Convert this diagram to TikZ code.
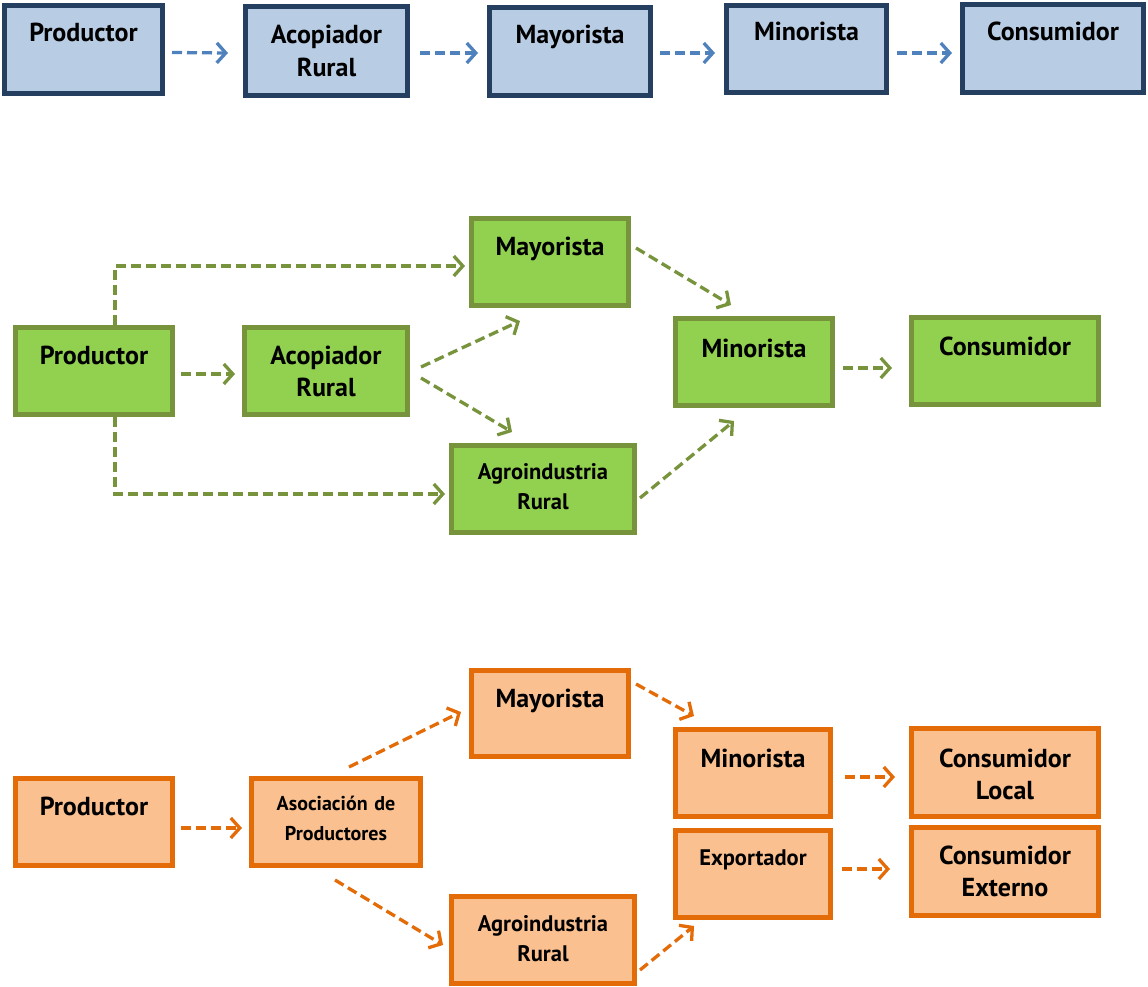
\documentclass[tikz,border=0pt]{standalone}
\usepackage{fontspec}
\setmainfont{PT Sans}
\usetikzlibrary{arrows.meta,calc}
\definecolor{bfill}{HTML}{B8CCE4}
\definecolor{bdraw}{HTML}{243F60}
\definecolor{barrow}{HTML}{4F81BD}
\definecolor{gfill}{HTML}{92D050}
\definecolor{gdraw}{HTML}{77933C}
\definecolor{ofill}{HTML}{FAC090}
\definecolor{odraw}{HTML}{E36C09}
\tikzset{
 boxbase/.style={rectangle, inner sep=0pt, line width=5pt},
 bluebox/.style={boxbase, fill=bfill, draw=bdraw},
 greenbox/.style={boxbase, fill=gfill, draw=gdraw},
 orangebox/.style={boxbase, fill=ofill, draw=odraw},
 lbl/.style={anchor=base, align=center, text width=190pt, inner sep=0pt, font=\bfseries\fontsize{26}{32.5}\selectfont},
 lblsmall/.style={lbl, font=\bfseries\fontsize{22.5}{30}\selectfont},
 lblasoc/.style={lbl, font=\bfseries\fontsize{20}{30}\selectfont},
 flow/.style={line width=3.3pt, dash pattern=on 10pt off 5pt, -{Straight Barb[length=9pt,width=20pt,line width=3.3pt]}},
 bflow/.style={flow, draw=barrow},
 gflow/.style={flow, draw=gdraw},
 oflow/.style={flow, draw=odraw},
}
\newcommand\mkbox[6]{\node[#6, minimum width={#4-#2-5}, minimum height={#5-#3-5}] (#1) at ({(#2+#4)/2},{(#3+#5)/2}) {};}
\begin{document}
\begin{tikzpicture}[x=1pt,y=-1pt]
\useasboundingbox (0,0) rectangle (1148,987);
% ---------- Row 1 (blue) ----------
\mkbox{b1}{2}{3}{165}{96}{bluebox}
\mkbox{b2}{243}{4}{410}{98}{bluebox}
\mkbox{b3}{487}{5}{653}{98}{bluebox}
\mkbox{b4}{724}{3}{889}{95}{bluebox}
\mkbox{b5}{960}{2}{1146}{95}{bluebox}
\node[lbl] at ($(b1.north)+(0,39)$) {Productor};
\node[lbl] at ($(b2.north)+(0,40)$) {Acopiador\\Rural};
\node[lbl] at ($(b3.north)+(0,39)$) {Mayorista};
\node[lbl] at ($(b4.north)+(0,38)$) {Minorista};
\node[lbl] at ($(b5.north)+(0,39)$) {Consumidor};
\draw[bflow] ($(b1.east)+(7,3)$) -- ($(b2.west)+(-15,2)$);
\draw[bflow] ($(b2.east)+(10,2)$) -- ($(b3.west)+(-9,1.5)$);
\draw[bflow] ($(b3.east)+(7,1.5)$) -- ($(b4.west)+(-9,4)$);
\draw[bflow] ($(b4.east)+(8,4)$) -- ($(b5.west)+(-8,4.5)$);
% ---------- Row 2 (green) ----------
\mkbox{p2}{13}{325}{175}{417}{greenbox}
\mkbox{a2}{242}{325}{410}{417}{greenbox}
\mkbox{m2}{469}{216}{631}{308}{greenbox}
\mkbox{n2}{673}{316}{835}{408}{greenbox}
\mkbox{c2}{909}{315}{1101}{407}{greenbox}
\mkbox{g2}{449}{443}{637}{535}{greenbox}
\node[lbl] at ($(p2.north)+(0,39)$) {Productor};
\node[lbl] at ($(a2.north)+(0,39)$) {Acopiador\\Rural};
\node[lbl] at ($(m2.north)+(0,39)$) {Mayorista};
\node[lbl] at ($(n2.north)+(0,41)$) {Minorista};
\node[lbl] at ($(c2.north)+(0,40)$) {Consumidor};
\node[lblsmall] at ($(g2.north)+(0,36)$) {Agroindustria\\Rural};
\draw[gflow] ($(p2.east)+(6,3)$) -- ($(a2.west)+(-7,3)$);
\draw[gflow] ($(p2.north)+(21,0)$) |- ($(m2.west)+(-4,4)$);
\draw[gflow] ($(p2.south)+(21,0)$) |- ($(g2.west)+(-4,5)$);
\draw[gflow] ($(a2.east)+(11,-4)$) -- ($(m2.south)+(-30,13)$);
\draw[gflow] ($(a2.east)+(11,7)$) -- ($(g2.north)+(-31,-11)$);
\draw[gflow] ($(m2.east)+(5,-14)$) -- ($(n2.north)+(-23,-11)$);
\draw[gflow] ($(g2.east)+(3,9)$) -- ($(n2.south)+(-20,13)$);
\draw[gflow] ($(n2.east)+(8,6)$) -- ($(c2.west)+(-17,7)$);
% ---------- Row 3 (orange) ----------
\mkbox{p3}{13}{776}{175}{868}{orangebox}
\mkbox{s3}{249}{776}{423}{868}{orangebox}
\mkbox{m3}{469}{668}{631}{759}{orangebox}
\mkbox{n3}{673}{727}{833}{819}{orangebox}
\mkbox{e3}{673}{828}{833}{920}{orangebox}
\mkbox{l3}{909}{726}{1101}{819}{orangebox}
\mkbox{x3}{909}{825}{1101}{918}{orangebox}
\mkbox{g3}{449}{894}{637}{986}{orangebox}
\node[lbl] at ($(p3.north)+(0,39)$) {Productor};
\node[lblasoc] at ($(s3.north)+(0,34)$) {Asociación de\\Productores};
\node[lbl] at ($(m3.north)+(0,39)$) {Mayorista};
\node[lbl] at ($(n3.north)+(0,40)$) {Minorista};
\node[lblsmall] at ($(e3.north)+(0,37)$) {Exportador};
\node[lbl] at ($(l3.north)+(0,41)$) {Consumidor\\Local};
\node[lbl] at ($(x3.north)+(0,39)$) {Consumidor\\Externo};
\node[lblsmall] at ($(g3.north)+(0,37)$) {Agroindustria\\Rural};
\draw[oflow] ($(p3.east)+(6,6)$) -- ($(s3.west)+(-7,6)$);
\draw[oflow] ($(s3.north)+(13,-9)$) -- ($(m3.west)+(-8,-1.5)$);
\draw[oflow] ($(s3.south)+(-1,12)$) -- ($(g3.west)+(-6,5)$);
\draw[oflow] ($(m3.east)+(5,-29.5)$) -- ($(n3.north)+(-59,-11)$);
\draw[oflow] ($(g3.east)+(3,30)$) -- ($(e3.south)+(-59,6)$);
\draw[oflow] ($(n3.east)+(12,4)$) -- ($(l3.west)+(-14,4.5)$);
\draw[oflow] ($(e3.east)+(9,-5)$) -- ($(x3.west)+(-19,-2.5)$);
\end{tikzpicture}
\end{document}
